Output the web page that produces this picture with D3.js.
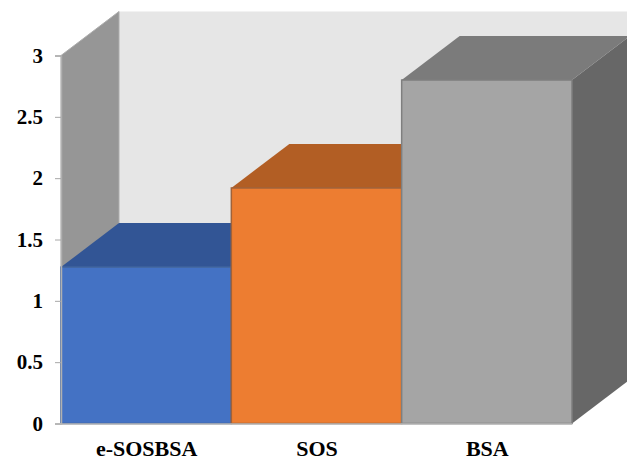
<!DOCTYPE html>
<html>
<head>
<meta charset="utf-8">
<script src="https://cdn.jsdelivr.net/npm/d3@7"></script>
<style>
html,body{margin:0;padding:0;background:#fff;}
svg{display:block;}
text{font-family:"Liberation Serif",serif;font-weight:bold;fill:#000;}
</style>
</head>
<body>
<svg id="chart" width="627" height="461"></svg>
<script>
// Chart values
const categories = ["e-SOSBSA", "SOS", "BSA"];
const values = [1.275, 1.92, 2.8];
const tickValues = [0, 0.5, 1, 1.5, 2, 2.5, 3];
const tickLabels = ["0", "0.5", "1", "1.5", "2", "2.5", "3"];
const frontColors = ["#4472c4", "#ed7d31", "#a5a5a5"];
const topColors = ["#325595", "#b25e24", "#7b7b7b"];
const sideColors = ["#2c4a80", "#9a5220", "#676767"];
const edgeColors = ["#41659f", "#a0623a", "#7f7f7f"];

const svg = d3.select("#chart");
const width = 627, height = 461;
const x0 = 61, x1 = 572, yBase = 423.5, yTop = 55.5;
const depthX = 58, depthY = -44;

const x = d3.scaleBand().domain(categories).range([x0, x1]).padding(0);
const y = d3.scaleLinear().domain([0, 3]).range([yBase, yTop]);
const pts = a => a.map(p => p.join(",")).join(" ");

// Back wall and left wall of the 3D box
svg.append("polygon")
  .attr("points", pts([[x0 + depthX, y(3) + depthY], [width, y(3) + depthY], [width, y(0) + depthY], [x0 + depthX, y(0) + depthY]]))
  .attr("fill", "#e6e6e6");
svg.append("polygon")
  .attr("points", pts([[x0, y(3)], [x0 + depthX, y(3) + depthY], [x0 + depthX, y(0) + depthY], [x0, y(0)]]))
  .attr("fill", "#969696")
  .attr("stroke", "#adadad")
  .attr("stroke-width", 1);

// Bars, drawn left to right so each one covers the side of the previous one
const bars = svg.append("g").selectAll("g")
  .data(categories.map((c, i) => ({c, v: values[i], i})))
  .join("g");

bars.append("polygon")
  .attr("points", d => {
    const r = x(d.c) + x.bandwidth();
    return pts([[r, y(d.v)], [r + depthX, y(d.v) + depthY], [r + depthX, y(0) + depthY], [r, y(0)]]);
  })
  .attr("fill", d => sideColors[d.i]);

bars.append("polygon")
  .attr("points", d => {
    const l = x(d.c), r = l + x.bandwidth();
    return pts([[l, y(d.v)], [l + depthX, y(d.v) + depthY], [r + depthX, y(d.v) + depthY], [r, y(d.v)]]);
  })
  .attr("fill", d => topColors[d.i]);

bars.append("rect")
  .attr("x", d => x(d.c))
  .attr("y", d => y(d.v))
  .attr("width", x.bandwidth())
  .attr("height", d => y(0) - y(d.v))
  .attr("fill", d => frontColors[d.i])
  .attr("stroke", d => edgeColors[d.i])
  .attr("stroke-width", 1.5);

// Value axis
const yAxis = d3.axisLeft(y)
  .tickValues(tickValues)
  .tickFormat((d, i) => tickLabels[i])
  .tickSize(6)
  .tickPadding(12);
const gy = svg.append("g").attr("transform", `translate(${x0},0)`).call(yAxis);
gy.select(".domain").attr("stroke", "#b0b0b0").attr("stroke-width", 1.5);
gy.selectAll(".tick line").attr("stroke", "#a8a8a8").attr("stroke-width", 1);
gy.selectAll("text").style("font-size", "21px");

// Floor front edge and category labels
svg.append("line")
  .attr("x1", x0 - 6).attr("x2", x1)
  .attr("y1", yBase + 0.5).attr("y2", yBase + 0.5)
  .attr("stroke", "#b8b8b8").attr("stroke-width", 1.5);

svg.append("g").selectAll("text")
  .data(categories)
  .join("text")
  .attr("x", d => x(d) + x.bandwidth() / 2 + 0.5)
  .attr("y", 456)
  .attr("text-anchor", "middle")
  .style("font-size", "22px")
  .text(d => d);
</script>
</body>
</html>
